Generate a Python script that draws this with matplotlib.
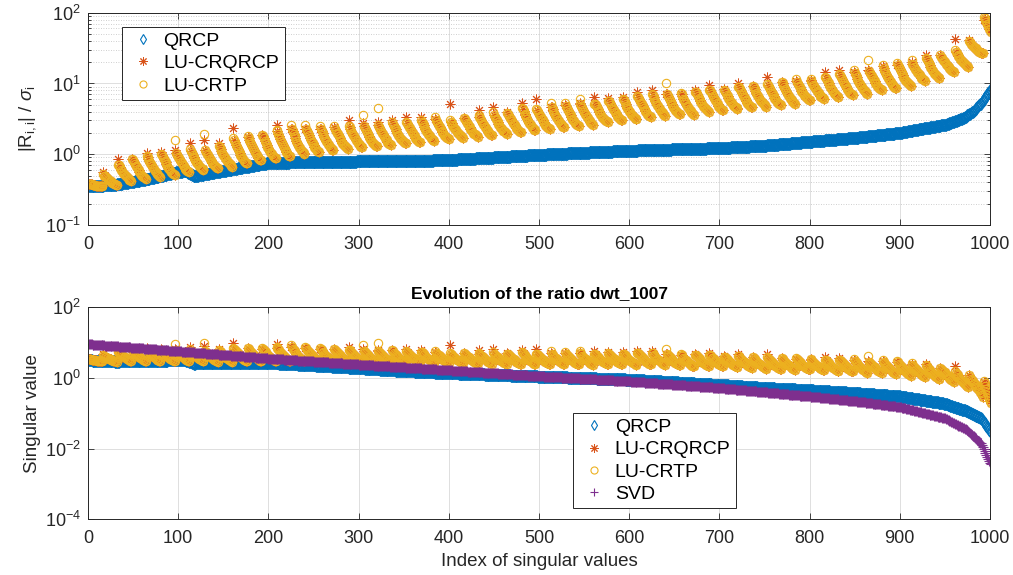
import numpy as np
import matplotlib
matplotlib.use('Agg')
import matplotlib.pyplot as plt
from matplotlib.ticker import LogLocator, NullLocator, FixedLocator, NullFormatter

plt.rcParams['font.family'] = ['Liberation Sans', 'DejaVu Sans']
plt.rcParams['mathtext.fontset'] = 'custom'
plt.rcParams['mathtext.rm'] = 'Liberation Sans'
plt.rcParams['mathtext.it'] = 'Liberation Sans:italic'
plt.rcParams['mathtext.bf'] = 'Liberation Sans:bold'

# ---------------- data ----------------
n_values = 1007
block_size = 16

# QRCP ratio |R_ii| / sigma_i (anchor readings)
qrcp_index = [1, 30, 60, 100, 108, 118, 150, 200, 250, 300, 350, 400, 450, 500,
              550, 600, 650, 700, 750, 800, 850, 900, 930, 950, 970, 980, 990,
              1000, 1007]
qrcp_ratio = [0.35, 0.37, 0.43, 0.56, 0.58, 0.49, 0.58, 0.75, 0.78, 0.79, 0.79,
              0.83, 0.90, 0.98, 1.05, 1.12, 1.17, 1.22, 1.32, 1.50, 1.70, 2.00,
              2.35, 2.60, 3.20, 3.90, 5.20, 8.00, 9.00]

# singular values (anchor readings)
svd_index = [1, 50, 100, 150, 200, 300, 400, 500, 600, 700, 800, 850, 900,
             950, 975, 990, 1000, 1007]
svd_value = [9.0, 7.2, 5.7, 4.5, 3.55, 2.4, 1.65, 1.12, 0.80, 0.52, 0.30,
             0.22, 0.15, 0.072, 0.033, 0.014, 0.004, 0.002]

# LU ratios per block of 16 columns: value after the first column (top)
# and at the end of the block (bottom)
block_top = [0.38, 0.50, 0.70, 0.82, 0.92, 0.98, 1.05, 1.10, 1.15, 1.25,
             1.60, 1.70, 1.80, 2.10, 2.30, 2.30, 2.30, 2.30, 2.45, 2.50,
             2.60, 2.70, 2.80, 2.90, 3.00, 2.90, 3.10, 3.40, 3.60, 3.70,
             4.30, 4.20, 4.60, 4.80, 5.20, 5.20, 5.60, 5.80, 6.50, 6.90,
             7.00, 7.00, 7.50, 8.00, 7.80, 8.80, 8.80, 9.50, 10.0, 10.5,
             10.8, 12.0, 13.0, 14.0, 15.0, 16.5, 18.0, 19.0, 22.0, 24.0,
             28.0, 38.0, 85.0]
block_bottom = [0.35, 0.37, 0.42, 0.45, 0.48, 0.51, 0.56, 0.60, 0.63, 0.67,
                0.74, 0.82, 0.88, 0.93, 1.00, 1.07, 1.13, 1.20, 1.25, 1.30,
                1.35, 1.42, 1.48, 1.54, 1.65, 1.72, 1.78, 1.85, 1.95, 2.05,
                2.18, 2.28, 2.40, 2.50, 2.60, 2.85, 3.00, 3.10, 3.35, 3.50,
                3.65, 3.60, 4.00, 4.20, 4.40, 4.60, 4.70, 4.95, 5.20, 5.80,
                6.10, 6.40, 6.90, 7.20, 8.10, 8.50, 9.30, 11.0, 11.8, 14.6,
                17.3, 26.6, 40.0]
# first column of each block
crtp_first = [0.38, 0.52, 0.71, 0.85, 0.95, 1.00, 1.59, 1.20, 1.93, 1.30,
              1.70, 1.80, 1.87, 2.20, 2.60, 2.55, 2.50, 2.50, 2.50, 3.60,
              4.50, 2.90, 2.90, 3.00, 3.40, 3.00, 3.20, 3.60, 3.90, 3.80,
              4.50, 4.30, 5.25, 5.25, 6.10, 5.20, 5.70, 6.00, 6.60, 7.10,
              10.1, 7.40, 7.60, 8.20, 8.00, 9.00, 9.20, 9.80, 10.6, 11.4,
              11.4, 12.2, 13.5, 15.5, 21.6, 18.2, 19.7, 21.6, 23.0, 25.3,
              30.0, 40.0, 87.0]
crqrcp_first = [0.38, 0.57, 0.85, 0.85, 1.03, 1.09, 1.15, 1.43, 1.60, 1.43,
                2.33, 1.75, 1.85, 2.60, 2.30, 2.30, 2.30, 2.40, 3.05, 2.80,
                2.85, 3.05, 3.40, 3.40, 3.10, 5.10, 3.20, 4.20, 4.70, 3.90,
                5.25, 6.00, 4.60, 4.90, 5.30, 6.50, 6.30, 6.50, 7.60, 8.10,
                7.20, 7.20, 8.10, 9.50, 8.30, 10.1, 9.20, 12.4, 10.4, 10.8,
                11.2, 14.6, 15.5, 14.5, 15.5, 17.5, 18.5, 20.0, 25.3, 25.0,
                42.0, 41.0, 80.0]
# fall of the ratio inside one block (0 = top, 1 = bottom), read from one block
block_profile = [0.0, 0.10, 0.20, 0.29, 0.38, 0.47, 0.55, 0.63, 0.70, 0.77,
                 0.83, 0.88, 0.93, 0.97, 1.0]

# ---------------- build series ----------------
index = np.arange(1, n_values + 1)
qr = 10 ** np.interp(index, qrcp_index, np.log10(qrcp_ratio))
sigma = 10 ** np.interp(index, svd_index, np.log10(svd_value))


def lu_series(first):
    out = np.empty(n_values)
    for k in range(len(block_top)):
        s = k * block_size
        e = min(s + block_size, n_values)
        out[s] = first[k]
        lt, lb = np.log10(block_top[k]), np.log10(block_bottom[k])
        for j in range(1, e - s):
            out[s + j] = 10 ** (lt + block_profile[j - 1] * (lb - lt))
    return out


crtp = lu_series(crtp_first)
crqrcp = lu_series(crqrcp_first)

c_qr = '#0072BD'
c_crq = '#D95319'
c_crtp = '#EDB120'
c_svd = '#7E2F8E'
axcol = (0.15, 0.15, 0.15)

W, H = 1013, 575
fig = plt.figure(figsize=(W / 100, H / 100), dpi=100)
ax1 = fig.add_axes([88 / W, 1 - 225 / H, 902 / W, 212.3 / H])
ax2 = fig.add_axes([88 / W, 1 - 519.3 / H, 902 / W, 212 / H])

ms = 6
kw_qr = dict(ls='none', marker='d', ms=ms, mfc='none', mec=c_qr, mew=0.8)
kw_crq = dict(ls='none', marker=(8, 2, 0), ms=ms + 1, mec=c_crq, mew=0.7)
kw_crtp = dict(ls='none', marker='o', ms=ms, mfc='none', mec=c_crtp, mew=0.8)
kw_svd = dict(ls='none', marker='+', ms=ms + 1, mec=c_svd, mew=0.8)

ax1.plot(index, qr, label='QRCP', **kw_qr)
ax1.plot(index, crqrcp, label='LU-CRQRCP', **kw_crq)
ax1.plot(index, crtp, label='LU-CRTP', **kw_crtp)

ax2.plot(index, qr * sigma, label='QRCP', **kw_qr)
ax2.plot(index, crqrcp * sigma, label='LU-CRQRCP', **kw_crq)
ax2.plot(index, crtp * sigma, label='LU-CRTP', **kw_crtp)
ax2.plot(index, sigma, label='SVD', **kw_svd)

for ax in (ax1, ax2):
    ax.set_yscale('log')
    ax.set_xlim(0, 1000)
    ax.set_xticks(np.arange(0, 1001, 100))
    ax.tick_params(which='both', direction='in', top=True, right=True,
                   colors=axcol, labelsize=13, width=0.6)
    ax.tick_params(which='major', length=4)
    ax.tick_params(axis='x', which='major', pad=8)
    ax.tick_params(axis='y', which='major', pad=5)
    ax.tick_params(which='minor', length=2.2)
    ax.grid(True, which='major', color=(0.87, 0.87, 0.87), lw=0.7)
    for sp in ax.spines.values():
        sp.set_color(axcol)
        sp.set_linewidth(0.7)
    ax.set_axisbelow(True)
    ax.xaxis.set_minor_locator(NullLocator())

ax1.set_ylim(0.1, 100)
ax1.yaxis.set_major_locator(FixedLocator([0.1, 1, 10, 100]))
ax1.yaxis.set_minor_locator(LogLocator(base=10, subs=np.arange(2, 10)))
ax1.yaxis.set_minor_formatter(NullFormatter())
ax1.yaxis.grid(True, which='minor', color=(0.75, 0.75, 0.75), lw=0.6,
               linestyle=(0, (1, 2)))
ax1.set_ylabel(r'|R$_{\rm i,i}$| / $\sigma_{\rm i}$', fontsize=13.5,
               color=axcol, labelpad=5)

ax2.set_ylim(1e-4, 1e2)
ax2.yaxis.set_major_locator(FixedLocator([1e-4, 1e-2, 1, 1e2]))
ax2.yaxis.set_minor_locator(NullLocator())
ax2.set_ylabel('Singular value', fontsize=13.5, color=axcol, labelpad=3)
ax2.set_xlabel('Index of singular values', fontsize=13.5, color=axcol,
               labelpad=4)
ax2.set_title('Evolution of the ratio dwt_1007', fontsize=12.5,
              fontweight='bold', pad=7)

leg_kw = dict(loc='upper left', borderaxespad=0, fontsize=14, numpoints=1,
              handlelength=1.6, handletextpad=0.25, borderpad=0.28,
              labelspacing=0.24, fancybox=False, framealpha=1,
              edgecolor=axcol, markerscale=0.85)
l1 = ax1.legend(bbox_to_anchor=(0.0377, 0.933), **leg_kw)
l2 = ax2.legend(bbox_to_anchor=(0.538, 0.501), **leg_kw)
for l in (l1, l2):
    l.get_frame().set_linewidth(0.7)

fig.savefig('out.png', dpi=100)
